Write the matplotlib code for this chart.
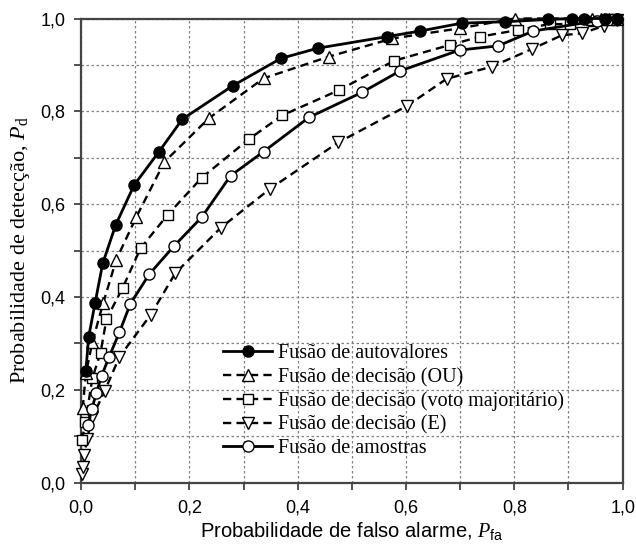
import matplotlib
matplotlib.use("Agg")
import matplotlib.pyplot as plt
from matplotlib.ticker import MultipleLocator, FuncFormatter

# --- data (Pfa, Pd) ---
autoval_x = [0.009, 0.014, 0.026, 0.040, 0.064, 0.098, 0.144, 0.187, 0.280, 0.369, 0.437,
             0.565, 0.626, 0.703, 0.783, 0.863, 0.906, 0.928, 0.968, 0.99]
autoval_y = [0.241, 0.313, 0.387, 0.472, 0.555, 0.641, 0.713, 0.783, 0.855, 0.914, 0.936,
             0.961, 0.973, 0.990, 0.993, 0.998, 1.0, 1.0, 1.0, 1.0]

ou_x = [0.003, 0.009, 0.021, 0.041, 0.065, 0.102, 0.154, 0.236, 0.337, 0.458, 0.575,
        0.700, 0.801, 0.943, 0.96, 0.975, 0.99]
ou_y = [0.16, 0.235, 0.303, 0.387, 0.480, 0.572, 0.691, 0.785, 0.871, 0.918, 0.957,
        0.979, 1.0, 1.0, 1.0, 1.0, 1.0]

voto_x = [0.002, 0.008, 0.021, 0.036, 0.047, 0.077, 0.110, 0.160, 0.223, 0.310, 0.371,
          0.477, 0.578, 0.681, 0.737, 0.806, 0.865, 0.903, 0.945, 0.975]
voto_y = [0.092, 0.13, 0.225, 0.280, 0.352, 0.420, 0.505, 0.577, 0.657, 0.740, 0.791,
          0.846, 0.909, 0.943, 0.961, 0.975, 0.988, 0.988, 0.995, 1.0]

e_x = [0.002, 0.003, 0.006, 0.011, 0.021, 0.044, 0.071, 0.129, 0.174, 0.258, 0.349,
       0.475, 0.601, 0.675, 0.758, 0.832, 0.888, 0.925, 0.965, 0.99]
e_y = [0.018, 0.034, 0.059, 0.093, 0.141, 0.198, 0.271, 0.362, 0.451, 0.549, 0.633,
       0.733, 0.811, 0.870, 0.896, 0.934, 0.964, 0.968, 0.984, 0.996]

amostras_x = [0.013, 0.020, 0.028, 0.038, 0.052, 0.071, 0.091, 0.126, 0.172, 0.223, 0.276,
              0.337, 0.421, 0.519, 0.589, 0.699, 0.770, 0.835, 0.952, 0.99]
amostras_y = [0.125, 0.158, 0.192, 0.230, 0.271, 0.324, 0.385, 0.449, 0.510, 0.572, 0.661,
              0.713, 0.787, 0.841, 0.887, 0.932, 0.941, 0.973, 0.995, 1.0]

labels = ["Fusão de autovalores", "Fusão de decisão (OU)",
          "Fusão de decisão (voto majoritário)", "Fusão de decisão (E)",
          "Fusão de amostras"]

plt.rcParams['mathtext.fontset'] = 'custom'
plt.rcParams['mathtext.rm'] = 'Liberation Serif'
plt.rcParams['mathtext.it'] = 'Liberation Serif:italic'
plt.rcParams['mathtext.sf'] = 'Liberation Sans'

fig = plt.figure(figsize=(6.36, 5.46), dpi=100)
ax = fig.add_axes([0.1274, 0.1163, 0.8516, 0.8498])

dash = (0, (3.5, 2.2))
ax.plot(autoval_x, autoval_y, '-', lw=2.0, color='black', marker='o', ms=8,
        mfc='black', mec='black', mew=1.0, clip_on=False, label=labels[0], zorder=6)
ax.plot(ou_x, ou_y, linestyle=dash, lw=1.7, color='black', marker='^', ms=9,
        mfc='white', mec='black', mew=1.0, clip_on=False, label=labels[1], zorder=5)
ax.plot(voto_x, voto_y, linestyle=dash, lw=1.7, color='black', marker='s', ms=7,
        mfc='white', mec='black', mew=1.0, clip_on=False, label=labels[2], zorder=4)
ax.plot(e_x, e_y, linestyle=dash, lw=1.7, color='black', marker='v', ms=9,
        mfc='white', mec='black', mew=1.0, clip_on=False, label=labels[3], zorder=3)
ax.plot(amostras_x, amostras_y, '-', lw=2.0, color='black', marker='o', ms=8,
        mfc='white', mec='black', mew=1.0, clip_on=False, label=labels[4], zorder=5)

ax.set_xlim(0, 1)
ax.set_ylim(0, 1)
for a in (ax.xaxis, ax.yaxis):
    a.set_major_locator(MultipleLocator(0.2))
    a.set_minor_locator(MultipleLocator(0.1))
    a.set_major_formatter(FuncFormatter(lambda v, p: f"{v:.1f}".replace('.', ',')))

ax.grid(True, which='both', color='#808080', linestyle=(0, (2, 2)), linewidth=0.9)
ax.set_axisbelow(True)
ax.tick_params(which='both', direction='out', length=5, width=1.2, color='#333333')
ax.tick_params(which='major', labelsize=13)
ax.tick_params(axis='x', which='major', pad=7)
ax.tick_params(axis='y', which='major', pad=6)
for lab in ax.get_xticklabels() + ax.get_yticklabels():
    lab.set_fontfamily('Liberation Sans')
for sp in ax.spines.values():
    sp.set_linewidth(1.6)
    sp.set_color('#444444')

ax.set_xlabel(r"Probabilidade de falso alarme, $P_{\mathsf{fa}}$",
              fontsize=14.5, family='Liberation Sans', labelpad=3)
ax.set_ylabel(r"Probabilidade de detecção, $P_{\mathrm{d}}$",
              fontsize=16, family='Liberation Serif', labelpad=6)

ax.legend(loc='upper left', bbox_to_anchor=(0.262, 0.298), frameon=False,
          numpoints=1, handlelength=2.45, handletextpad=0.3, labelspacing=0.22,
          borderaxespad=0, borderpad=0,
          prop={'family': 'Liberation Serif', 'size': 14.5})

fig.savefig("out.png", dpi=100)
